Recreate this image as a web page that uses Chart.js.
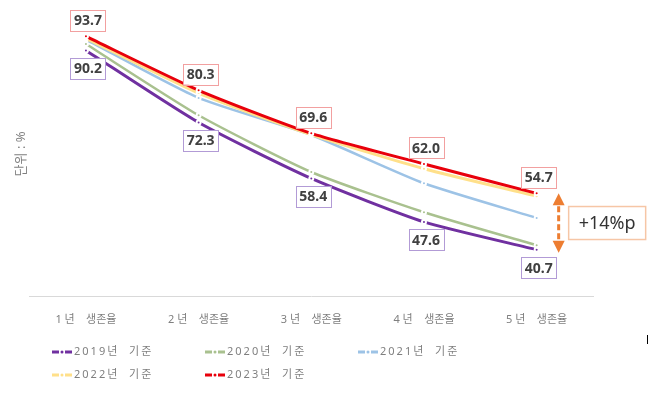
<!DOCTYPE html>
<html lang="ko">
<head>
<meta charset="utf-8">
<script src="https://cdn.jsdelivr.net/npm/chart.js@4.4.1/dist/chart.umd.min.js"></script>
<style>
  html, body { margin: 0; padding: 0; background: #fff; }
</style>
</head>
<body>
<canvas id="chart" width="650" height="397"></canvas>
<script>
// data
const categories = ['1 년    생존율', '2 년    생존율', '3 년    생존율', '4 년    생존율', '5 년    생존율'];
const seriesNames = ['2019년  기준', '2020년  기준', '2021년  기준', '2022년  기준', '2023년  기준'];
const s2019 = [90.2, 72.3, 58.4, 47.6, 40.7];
const s2020 = [91.8, 74.1, 60.0, 50.0, 41.8];
const s2021 = [92.9, 78.4, 69.2, 57.2, 48.6];
const s2022 = [93.2, 79.6, 69.3, 60.8, 54.0];
const s2023 = [93.7, 80.3, 69.6, 62.0, 54.7];
const gapLabel = '+14%p';

const colors = ['#7030A0', '#A9C18F', '#9DC3E6', '#FFE08A', '#E8000B'];
const widths = [3, 2.5, 2.5, 3, 3];
const FONT = '"Noto Sans", "Noto Sans CJK KR", sans-serif';

const allSeries = [s2019, s2020, s2021, s2022, s2023];
const datasets = allSeries.map((d, i) => ({
    label: seriesNames[i],
    data: d,
    borderColor: colors[i],
    backgroundColor: colors[i],
    borderWidth: widths[i],
    tension: 0.2,
    pointRadius: 2,
    pointBorderWidth: 2,
    pointBorderColor: '#fff',
    pointBackgroundColor: colors[i],
    order: 4 - i
}))

// boxed value labels for 2019 (below) and 2023 (above)
const boxLabels = {
    id: 'boxLabels',
    afterDatasetsDraw(chart) {
        const ctx = chart.ctx
        const specs = [
            { index: 0, dy: 18, border: '#B29BD6' },
            { index: 4, dy: -16, border: '#F2A0A0' }
        ]
        ctx.save()
        ctx.font = 'bold 14px ' + FONT
        ctx.textAlign = 'center'
        ctx.textBaseline = 'middle'
        specs.forEach(s => {
            const meta = chart.getDatasetMeta(s.index)
            meta.data.forEach((pt, i) => {
                const txt = allSeries[s.index][i].toFixed(1)
                const w = ctx.measureText(txt).width + 7
                const h = 21
                const cx = pt.x + 2
                const cy = pt.y + s.dy
                ctx.fillStyle = '#fff'
                ctx.fillRect(cx - w / 2, cy - h / 2, w, h)
                ctx.strokeStyle = s.border
                ctx.lineWidth = 1
                ctx.strokeRect(Math.round(cx - w / 2) + 0.5, Math.round(cy - h / 2) + 0.5, Math.round(w), h)
                ctx.fillStyle = '#404040'
                ctx.fillText(txt, cx, cy + 1)
            })
        })

        // gap arrow between 2023 and 2019 at year 5
        const last = s2023.length - 1
        const yTop = chart.scales.y.getPixelForValue(s2023[last])
        const yBot = chart.scales.y.getPixelForValue(s2019[last]) + 3
        const ax = chart.getDatasetMeta(4).data[last].x + 22
        const orange = '#ED7D31'
        ctx.fillStyle = orange
        ctx.beginPath()
        ctx.moveTo(ax, yTop); ctx.lineTo(ax - 6, yTop + 12); ctx.lineTo(ax + 6, yTop + 12); ctx.closePath()
        ctx.fill()
        ctx.beginPath()
        ctx.moveTo(ax, yBot); ctx.lineTo(ax - 6, yBot - 12); ctx.lineTo(ax + 6, yBot - 12); ctx.closePath()
        ctx.fill()
        ctx.strokeStyle = orange
        ctx.lineWidth = 3
        ctx.setLineDash([6, 3])
        ctx.beginPath()
        ctx.moveTo(ax, yTop + 13); ctx.lineTo(ax, yBot - 13)
        ctx.stroke()
        ctx.setLineDash([])

        const my = (yTop + yBot) / 2
        const bx = ax + 10, bw = 77, bh = 33
        ctx.fillStyle = '#fff'
        ctx.fillRect(bx, my - bh / 2, bw, bh)
        ctx.strokeStyle = '#F6C6A6'
        ctx.lineWidth = 1.5
        ctx.strokeRect(bx, my - bh / 2, bw, bh)
        ctx.fillStyle = '#333'
        ctx.font = '18px ' + FONT
        ctx.fillText(gapLabel, bx + bw / 2, my + 1)
        ctx.restore()
    },
    afterDraw(chart) {
        // legend in a 3-column grid
        const ctx = chart.ctx
        const cols = [52, 205, 358]
        const rows = [352, 375]
        ctx.save()
        ctx.font = '11px ' + FONT
        ctx.textBaseline = 'middle'
        ctx.textAlign = 'left'
        if ('letterSpacing' in ctx) ctx.letterSpacing = '2px'
        seriesNames.forEach((name, i) => {
            const x = cols[i % 3]
            const y = rows[Math.floor(i / 3)]
            ctx.strokeStyle = colors[i]
            ctx.fillStyle = colors[i]
            ctx.lineWidth = 3
            ctx.beginPath()
            ctx.moveTo(x, y); ctx.lineTo(x + 7, y)
            ctx.moveTo(x + 13, y); ctx.lineTo(x + 20, y)
            ctx.stroke()
            ctx.beginPath()
            ctx.arc(x + 10, y, 1.5, 0, Math.PI * 2)
            ctx.fill()
            ctx.fillStyle = '#7f7f7f'
            ctx.fillText(name, x + 22, y)
        })
        ctx.fillStyle = '#000'
        ctx.fillRect(647, 335, 1, 9)
        ctx.restore()
    }
}

new Chart(document.getElementById('chart'), {
    type: 'line',
    data: { labels: categories, datasets: datasets },
    options: {
        responsive: false,
        devicePixelRatio: 1,
        animation: false,
        layout: { padding: { left: 0, right: 57, top: 11, bottom: 55 } },
        plugins: {
            legend: { display: false },
            tooltip: { enabled: false }
        },
        scales: {
            x: {
                offset: true,
                grid: { display: false, drawTicks: false },
                border: { display: true, color: '#d9d9d9', width: 1 },
                ticks: {
                    color: '#7f7f7f',
                    font: { size: 11, family: FONT },
                    padding: 16,
                    maxRotation: 0,
                    autoSkip: false
                }
            },
            y: {
                min: 29,
                max: 100,
                grid: { display: false, drawTicks: false },
                border: { display: false },
                ticks: { display: false },
                title: {
                    display: true,
                    text: '단위 : %',
                    color: '#7f7f7f',
                    font: { size: 13, family: FONT },
                    padding: { top: 13, bottom: 1 }
                }
            }
        }
    },
    plugins: [boxLabels]
})
</script>
</body>
</html>
